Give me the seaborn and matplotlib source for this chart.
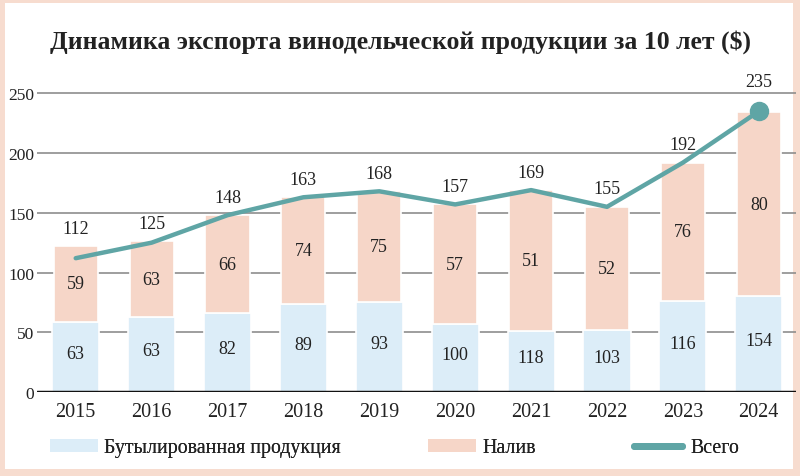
#%% Packages
import numpy as np
import pandas as pd
import matplotlib
matplotlib.use("Agg")
import matplotlib.pyplot as plt
import seaborn as sns
from matplotlib.patches import Rectangle, Patch
from matplotlib.lines import Line2D

#%% Data
years = ["2015", "2016", "2017", "2018", "2019", "2020", "2021", "2022", "2023", "2024"]
# values as they are printed on the chart
bottled = [63, 63, 82, 89, 93, 100, 118, 103, 116, 154]
bulk = [59, 63, 66, 74, 75, 57, 51, 52, 76, 80]
total = [112, 125, 148, 163, 168, 157, 169, 155, 192, 235]

title = "Динамика экспорта винодельческой продукции за 10 лет ($)"
legend_labels = ["Бутылированная продукция", "Налив", "Всего"]

BLUE = "#dcedf8"
PINK = "#f6d6c8"
TEAL = "#5fa5a5"
FRAME = "#f7dccf"

df = pd.DataFrame({"year": years, "bottled": bottled, "bulk": bulk, "total": total})

#%% Theme
sns.set_theme(style="white")
plt.rcParams["font.family"] = ["Liberation Serif", "DejaVu Serif"]

fig = plt.figure(figsize=(8, 4.77), dpi=100)
fig.patch.set_facecolor(FRAME)
fig.add_artist(Rectangle((5 / 800, 7 / 477), 788 / 800, 466 / 477,
                         transform=fig.transFigure, facecolor="white",
                         edgecolor="none", zorder=0))

ax = fig.add_axes([37 / 800, 84 / 477, 759 / 800, 313 / 477])
ax.set_facecolor("none")

#%% Bars (lower segment drawn with the second printed number, as in the original)
sns.barplot(data=df, x="year", y="bulk", color=BLUE, width=0.62,
            edgecolor="white", linewidth=1.2, saturation=1, ax=ax, zorder=2)
sns.barplot(data=df, x="year", y="bottled", bottom=df["bulk"], color=PINK, width=0.58,
            edgecolor="white", linewidth=1.2, saturation=1, ax=ax, zorder=2)

#%% Total line
xs = np.arange(len(years))
sns.lineplot(x=xs, y=df["total"], color=TEAL, linewidth=3.2, ax=ax, zorder=4,
             solid_capstyle="round")
ax.plot(xs[-1], total[-1], "o", color=TEAL, markersize=13, zorder=5)

#%% Labels
for i in range(len(years)):
    ax.text(i, bulk[i] / 2 + 3, str(bottled[i]), ha="center", va="center",
            fontsize=13, color="#222222", zorder=6)
    ax.text(i, bulk[i] + bottled[i] / 2, str(bulk[i]), ha="center", va="center",
            fontsize=13, color="#222222", zorder=6)
    top = max(total[i], bulk[i] + bottled[i])
    off = 18 if i == len(years) - 1 else 8
    ax.text(i, top + off, str(total[i]), ha="center", va="bottom",
            fontsize=13, color="#222222", zorder=6)

#%% Axes styling
ax.set_xlim(-0.51, 9.49)
ax.set_ylim(0, 262)
ax.set_yticks([0, 50, 100, 150, 200, 250])
ax.yaxis.grid(True, color="#8e8e8e", linewidth=1.2)
ax.set_axisbelow(True)
ax.axhline(0, color="#111111", linewidth=2.5, zorder=5)
sns.despine(ax=ax, left=True, bottom=True)
ax.set_xlabel("")
ax.set_ylabel("")
ax.tick_params(axis="y", length=0, pad=2, labelsize=12.5, labelcolor="#222222")
ax.tick_params(axis="x", length=0, pad=7, labelsize=14.5, labelcolor="#222222")

fig.text(0.5, 1 - 42 / 477, title, ha="center", va="center",
         fontsize=18.5, fontweight="bold", color="#222222")

#%% Legend: one small legend per entry so each sits where it is in the original
handles = [Patch(facecolor=BLUE, edgecolor="none"),
           Patch(facecolor=PINK, edgecolor="none"),
           Line2D([0], [0], color=TEAL, linewidth=5, solid_capstyle="round")]
legend_x = [50, 428, 634]
for h, lab, lx in zip(handles, legend_labels, legend_x):
    leg = fig.legend([h], [lab], loc="center left",
                     bbox_to_anchor=(lx / 800, 1 - 449 / 477), frameon=False,
                     fontsize=14.3, handlelength=2.42 if lx < 600 else 2.4,
                     handleheight=0.65, handletextpad=0.3 if lx < 600 else 0.45,
                     borderpad=0, borderaxespad=0, labelcolor="#222222")
    fig.add_artist(leg)

fig.savefig("out.png", dpi=100, facecolor=fig.get_facecolor())
